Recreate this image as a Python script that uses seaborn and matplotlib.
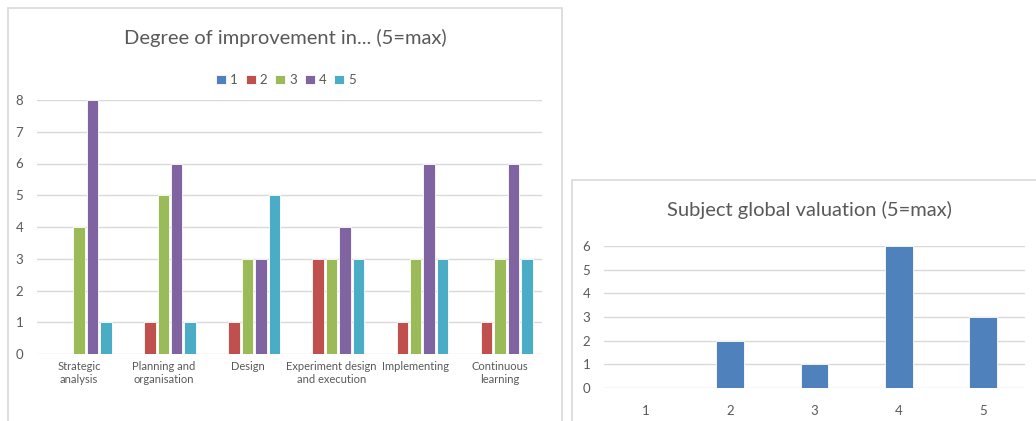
import numpy as np
import pandas as pd
import seaborn as sns
import matplotlib.pyplot as plt
from matplotlib.patches import Rectangle

# Degree of improvement per competence (counts of answers 1..5)
competences = ["Strategic\nanalysis", "Planning and\norganisation", "Design",
               "Experiment design\nand execution", "Implementing", "Continuous\nlearning"]
scores = ["1", "2", "3", "4", "5"]
score_1 = [0, 0, 0, 0, 0, 0]
score_2 = [0, 1, 1, 3, 1, 1]
score_3 = [4, 5, 3, 3, 3, 3]
score_4 = [8, 6, 3, 4, 6, 6]
score_5 = [1, 1, 5, 3, 3, 3]

# Subject global valuation
valuation_levels = ["1", "2", "3", "4", "5"]
valuation_counts = [0, 2, 1, 6, 3]

colors = ["#4F81BD", "#C0504D", "#9BBB59", "#8064A2", "#4BACC6"]
text_col = "#595959"
grid_col = "#D9D9D9"

sns.set_theme(style="white")
plt.rcParams["font.family"] = ["Lato", "DejaVu Sans"]

rows = []
for s, vals in zip(scores, [score_1, score_2, score_3, score_4, score_5]):
    for c, v in zip(competences, vals):
        rows.append({"competence": c, "score": s, "count": v})
df = pd.DataFrame(rows)
df_val = pd.DataFrame({"level": valuation_levels, "count": valuation_counts})

W, H = 1036, 421
fig = plt.figure(figsize=(W / 100, H / 100), dpi=100)

# chart panel borders
fig.patches.append(Rectangle((8 / W, -0.1), (562 - 8) / W, 1.1 - 8 / H, transform=fig.transFigure,
                             fill=False, edgecolor=grid_col, linewidth=1.2))
fig.patches.append(Rectangle((572 / W, -0.1), (1040 - 572) / W, 1.1 - 180 / H, transform=fig.transFigure,
                             fill=False, edgecolor=grid_col, linewidth=1.2))


def style_axes(ax, ymax):
    ax.set_ylim(0, ymax)
    ax.set_yticks(range(0, ymax + 1))
    ax.yaxis.grid(True, color=grid_col, linewidth=1)
    ax.set_axisbelow(True)
    sns.despine(ax=ax, left=True, bottom=True)
    ax.set_xlabel("")
    ax.set_ylabel("")
    ax.tick_params(length=0, colors=text_col, labelsize=9.5)
    ax.tick_params(axis="y", pad=10)


# left chart
ax1 = fig.add_axes([37 / W, (H - 354) / H, (542 - 37) / W, (354 - 100) / H])
sns.barplot(data=df, x="competence", y="count", hue="score", hue_order=scores,
            palette=colors, width=0.8, gap=0.15, saturation=1, edgecolor="white", linewidth=0.6, ax=ax1)
style_axes(ax1, 8)
ax1.tick_params(axis="x", pad=5, labelsize=8)
ax1.set_xlim(-0.5, len(competences) - 0.5)
sns.move_legend(ax1, "center", bbox_to_anchor=(286 / W, 1 - 80 / H), bbox_transform=fig.transFigure,
                ncol=5, frameon=False, title=None, fontsize=9.5, handlelength=0.75, handleheight=0.75,
                handletextpad=0.3, columnspacing=0.6, labelcolor=text_col)
fig.text(285 / W, 1 - 38 / H, "Degree of improvement in... (5=max)", ha="center", va="center",
         fontsize=14.5, color=text_col)

# right chart
ax2 = fig.add_axes([604 / W, (H - 388) / H, (1025 - 604) / W, (388 - 246) / H])
sns.barplot(data=df_val, x="level", y="count", color=colors[0], width=0.33, saturation=1,
            edgecolor="white", linewidth=0.6, ax=ax2)
style_axes(ax2, 6)
ax2.tick_params(axis="x", pad=12)
ax2.set_xlim(-0.5, len(valuation_levels) - 0.5)
fig.text(809 / W, 1 - 210 / H, "Subject global valuation (5=max)", ha="center", va="center",
         fontsize=14.5, color=text_col)

fig.savefig("out.png", dpi=100)
